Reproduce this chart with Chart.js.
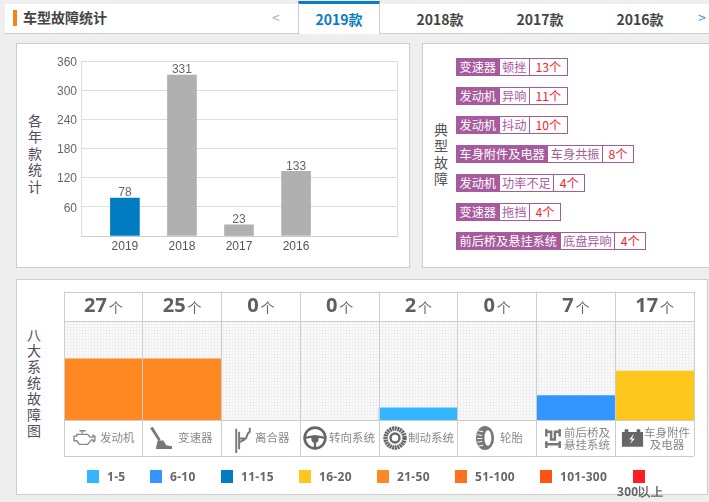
<!DOCTYPE html>
<html>
<head>
<meta charset="utf-8">
<script src="https://cdn.jsdelivr.net/npm/chart.js@4/dist/chart.umd.min.js"></script>
<style>
html, body { margin: 0; padding: 0; width: 709px; height: 502px; overflow: hidden; background: #eee; font-family: "Noto Sans CJK SC", "Noto Sans", sans-serif; }
.abs { position: absolute; }
.panel { position: absolute; background: #fff; border: 1px solid #ccc; box-sizing: border-box; }
#header { left: 5px; top: 4px; width: 704px; height: 30px; background: #fff; border-bottom: 1px solid #ccc; box-sizing: border-box; }
#titleBar { left: 13px; top: 10px; width: 4px; height: 16px; background: #f5821f; }
#title { left: 23px; top: 8px; font-size: 14px; line-height: 19px; font-weight: 700; color: #444; }
#activeTab { left: 298px; top: 1px; width: 82px; height: 33px; background: #fff; border-top: 3px solid #0a7cc4; border-left: 1px solid #ccc; border-right: 1px solid #ccc; box-sizing: border-box; }
.tab { position: absolute; top: 9px; width: 80px; text-align: center; font-size: 14px; line-height: 20px; font-weight: 700; color: #444; }
.vert { position: absolute; width: 20px; text-align: center; font-size: 14px; color: #554b5c; }
canvas { position: absolute; }
.row { position: absolute; left: 456px; display: flex; height: 18px; font-size: 12.2px; line-height: 16px; white-space: nowrap; }
.row span { display: block; border: 1px solid #a75a9d; border-left: none; padding: 0 2.5px; box-sizing: border-box; height: 18px; color: #a75a9d; }
.row span.sys { background: #a75a9d; color: #fff; border-left: 1px solid #a75a9d; }
.row span.num { color: #f0232f; padding: 0 5.5px; }
.cap { position: absolute; font-size: 11.5px; line-height: 11.5px; color: #888; text-align: center; white-space: nowrap; }
.icon { position: absolute; }
.swatch { position: absolute; top: 470px; width: 12px; height: 13px; }
.legText { position: absolute; top: 468px; font-family: "Open Sans", sans-serif; font-size: 12px; line-height: 18px; font-weight: 700; color: #666; letter-spacing: .3px; white-space: nowrap; }
</style>
</head>
<body>
<div id="header" class="abs"></div>
<div id="titleBar" class="abs"></div>
<div id="title" class="abs">车型故障统计</div>
<div class="abs" style="left:272px;top:8px;font-size:14px;line-height:18px;color:#aaa">&lt;</div>
<div id="activeTab" class="abs"></div>
<div class="tab" style="left:299px;color:#0a7cc4">2019款</div>
<div class="tab" style="left:400px">2018款</div>
<div class="tab" style="left:500px">2017款</div>
<div class="tab" style="left:600px">2016款</div>
<div class="abs" style="left:698px;top:8px;font-size:14px;line-height:18px;color:#2f8fe0">&gt;</div>

<div class="panel" style="left:16px;top:43px;width:394px;height:225px"></div>
<div class="panel" style="left:422px;top:43px;width:290px;height:225px"></div>
<div class="panel" style="left:16px;top:279px;width:692px;height:216px"></div>

<div class="vert" style="left:25px;top:112px;line-height:16.4px">各<br>年<br>款<br>统<br>计</div>
<div class="vert" style="left:431px;top:121px;line-height:16.3px;color:#555">典<br>型<br>故<br>障</div>
<div class="vert" style="left:24px;top:326px;line-height:16px">八<br>大<br>系<br>统<br>故<br>障<br>图</div>

<canvas id="yearChart" style="left:16px;top:43px;width:393px;height:224px" width="393" height="224"></canvas>
<canvas id="sysChart" style="left:16px;top:279px;width:692px;height:215px" width="692" height="215"></canvas>
<div id="faults"></div>
<div id="icons"></div>
<div id="legend"></div>

<script>
// yearly totals
const years = ['2019', '2018', '2017', '2016'];
const yearCounts = [78, 331, 23, 133];
const yearTicks = [60, 120, 180, 240, 300, 360];

// typical faults
const faultSystems = ['变速器', '发动机', '发动机', '车身附件及电器', '发动机', '变速器', '前后桥及悬挂系统'];
const faultNames = ['顿挫', '异响', '抖动', '车身共振', '功率不足', '拖挡', '底盘异响'];
const faultCounts = [13, 11, 10, 8, 4, 4, 4];

// eight systems
const systems = ['发动机', '变速器', '离合器', '转向系统', '制动系统', '轮胎', '前后桥及悬挂系统', '车身附件及电器'];
const systemCounts = [27, 25, 0, 0, 2, 0, 7, 17];
const systemLevels = [5, 5, 0, 0, 1, 0, 2, 4];

// legend
const legendLabels = ['1-5', '6-10', '11-15', '16-20', '21-50', '51-100', '101-300', '300以上'];
const legendColors = ['#33b5ff', '#3395ff', '#007cc3', '#ffc71e', '#ff8822', '#ff6f20', '#ff5411', '#ff1d23'];

const LATIN = 'Arial, "Liberation Sans", sans-serif';

// outer lines of the year plot
const yearFrame = {
    id: 'yearFrame',
    afterDraw(chart) {
        const { ctx, chartArea: a } = chart;
        ctx.save();
        ctx.strokeStyle = '#ddd';
        ctx.lineWidth = 1;
        ctx.beginPath();
        ctx.moveTo(a.right + .5, a.top);
        ctx.lineTo(a.right + .5, a.bottom);
        ctx.stroke();
        ctx.restore();
    }
};

const yearValues = {
    id: 'yearValues',
    afterDatasetsDraw(chart) {
        const { ctx } = chart;
        ctx.save();
        ctx.font = '12px ' + LATIN;
        ctx.fillStyle = '#666';
        ctx.textAlign = 'center';
        ctx.textBaseline = 'bottom';
        chart.getDatasetMeta(0).data.forEach((bar, i) => {
            ctx.fillText(yearCounts[i], bar.x, bar.y + 1);
        });
        ctx.restore();
    }
};

new Chart(document.getElementById('yearChart'), {
    type: 'bar',
    data: {
        datasets: [{
            data: yearCounts.map((v, i) => ({ x: i, y: v })),
            backgroundColor: years.map((y, i) => i === 0 ? '#007cc3' : '#b0b0b0'),
            barThickness: 29
        }]
    },
    options: {
        responsive: false,
        animation: false,
        layout: { padding: { top: 18, right: 12, left: 0, bottom: 0 } },
        plugins: { legend: { display: false }, tooltip: { enabled: false } },
        scales: {
            x: {
                type: 'linear',
                offset: false,
                min: -0.77,
                max: 4.77,
                afterBuildTicks: s => { s.ticks = years.map((y, i) => ({ value: i })); },
                afterFit: s => { s.height = 31; },
                grid: { display: false, drawTicks: false },
                border: { color: '#ccc' },
                ticks: {
                    autoSkip: false,
                    maxRotation: 0,
                    padding: 3,
                    color: '#555',
                    font: { family: LATIN, size: 12 },
                    callback: v => years[v]
                }
            },
            y: {
                min: 0,
                max: 360,
                afterBuildTicks: s => { s.ticks = [0].concat(yearTicks).map(v => ({ value: v })); },
                afterFit: s => { s.width = 65; },
                grid: { color: '#ddd', drawTicks: false },
                border: { color: '#ddd' },
                ticks: {
                    padding: 4,
                    labelOffset: 1.5,
                    color: '#666',
                    font: { family: LATIN, size: 12 },
                    callback: v => v === 0 ? '' : v
                }
            }
        }
    },
    plugins: [yearFrame, yearValues]
});

// dotted backdrop of the cells
function dotPattern(ctx) {
    const tile = document.createElement('canvas');
    tile.width = tile.height = 3;
    const t = tile.getContext('2d');
    t.fillStyle = '#fafafa';
    t.fillRect(0, 0, 3, 3);
    t.fillStyle = '#f0f0f0';
    t.fillRect(0, 0, 1, 3);
    t.fillRect(0, 0, 3, 1);
    return ctx.createPattern(tile, 'repeat');
}

const cellBack = {
    id: 'cellBack',
    beforeDatasetsDraw(chart) {
        const { ctx, chartArea: a } = chart;
        ctx.save();
        ctx.fillStyle = dotPattern(ctx);
        ctx.fillRect(a.left, a.top, a.right - a.left, a.bottom - a.top);
        ctx.restore();
    }
};

// table lines and the counts above each column
const cellFrame = {
    id: 'cellFrame',
    afterDraw(chart) {
        const { ctx, chartArea: a, scales: { x } } = chart;
        const top = a.top - 29.5, bottom = a.bottom + 36;
        const w = x.getPixelForValue(1) - x.getPixelForValue(0);
        ctx.save();
        ctx.strokeStyle = '#ccc';
        ctx.lineWidth = 1;
        ctx.beginPath();
        [top, a.top, a.bottom, bottom].forEach(y => {
            const py = Math.round(y) + .5;
            ctx.moveTo(a.left, py);
            ctx.lineTo(a.right, py);
        });
        systems.forEach((s, i) => {
            const px = Math.floor(x.getPixelForValue(i) - w / 2) + .5;
            ctx.moveTo(px, top);
            ctx.lineTo(px, bottom);
        });
        const rx = Math.round(a.right) + .5;
        ctx.moveTo(rx, top);
        ctx.lineTo(rx, bottom);
        ctx.stroke();

        ctx.textBaseline = 'middle';
        ctx.textAlign = 'left';
        systemCounts.forEach((n, i) => {
            const boldFont = '700 20px "Open Sans", sans-serif';
            const unitFont = '14px "Noto Sans CJK SC", sans-serif';
            ctx.font = boldFont;
            const nw = ctx.measureText(n).width;
            ctx.font = unitFont;
            const uw = ctx.measureText('个').width;
            const sx = x.getPixelForValue(i) - (nw + uw + 2) / 2;
            ctx.font = boldFont;
            ctx.fillStyle = '#5f5f5f';
            ctx.fillText(n, sx, a.top - 15);
            ctx.font = unitFont;
            ctx.fillStyle = '#666';
            ctx.fillText('个', sx + nw + 2, a.top - 13);
        });
        ctx.restore();
    }
};

new Chart(document.getElementById('sysChart'), {
    type: 'bar',
    data: {
        labels: systems,
        datasets: [{
            data: systemLevels,
            backgroundColor: systemLevels.map(l => l > 0 ? legendColors[l - 1] : 'transparent'),
            barPercentage: 1,
            categoryPercentage: 1
        }]
    },
    options: {
        responsive: false,
        animation: false,
        layout: { padding: { left: 48, right: 14, top: 42, bottom: 74 } },
        plugins: { legend: { display: false }, tooltip: { enabled: false } },
        scales: {
            x: { display: false },
            y: { display: false, min: 0, max: 8.1 }
        }
    },
    plugins: [cellBack, cellFrame]
});

// fault tags
const faultsBox = document.getElementById('faults');
faultSystems.forEach((sys, i) => {
    const row = document.createElement('div');
    row.className = 'row';
    row.style.top = (58 + i * 29) + 'px';
    row.innerHTML = '<span class="sys">' + sys + '</span><span>' + faultNames[i] + '</span><span class="num">' + faultCounts[i] + '个</span>';
    faultsBox.appendChild(row);
});

// system icons, drawn as small outlines
const iconSvg = [
    '<svg width="26" height="20" viewBox="0 0 26 22" fill="none" stroke="#888" stroke-width="1.5"><path d="M8 3h7M11 3v3M5 7h12l3 3h3v-2l2 1v5l-2 1v-2h-2l-4 5H8l-3-4H2V9h3z"/></svg>',
    '<svg width="23" height="22" viewBox="0 0 24 23" fill="#777"><path d="M0 1l3-1 8 13-2 2z"/><path d="M8 14h6l3 5 6 1v3H6z"/></svg>',
    '<svg width="20" height="29" viewBox="0 0 20 30" fill="none" stroke="#777" stroke-width="2"><path d="M3 5v25M6 8v18M6 15h7l2-5 2-2v-4M6 19l6-3"/></svg>',
    '<svg width="24" height="24" viewBox="0 0 24 24" fill="none" stroke="#666" stroke-width="2.6"><circle cx="12" cy="12" r="10.4"/><path stroke-width="2.2" d="M2 12c6-2 14-2 20 0M12 15v7"/><circle cx="12" cy="13" r="2.4" fill="#666"/></svg>',
    '<svg width="24" height="24" viewBox="0 0 24 24" fill="none" stroke="#666"><circle cx="12" cy="12" r="9.5" stroke-width="4.4" stroke-dasharray="2 .6"/><circle cx="12" cy="12" r="4.5" stroke-width="2.4"/></svg>',
    '<svg width="20" height="24" viewBox="0 0 20 25" fill="#777"><ellipse cx="10" cy="12.5" rx="9.5" ry="12.5"/><ellipse cx="13" cy="12.5" rx="3.6" ry="8" fill="#fff"/><path d="M3 5l5 1M2 9l5 1M2 13h5M2 17l5-1M3 21l5-1" stroke="#fff" stroke-width="1"/></svg>',
    '<svg width="22" height="21" viewBox="0 0 22 22" fill="none" stroke="#777" stroke-width="2.6"><path d="M4 1v8M18 1v8M5 4h4v8h4V4h4M4 14v7M18 14v7M5 17h12"/></svg>',
    '<svg width="23" height="18" viewBox="0 0 25 19"><path d="M1 3h23v16H1z" fill="#666"/><path d="M4 0h4v3H4zM17 0h4v3h-4z" fill="#666"/><path d="M14 5l-5 6h3l-2 5 5-6h-3z" fill="#fff"/></svg>'
];
const iconSlots = [[71, 428], [150, 427], [233, 424], [303, 426], [383, 426], [475, 426], [542, 428], [621, 428]];
const capSlots = [[100, 432], [178, 432], [255, 432], [329, 432], [408, 432], [500, 432], [564, 427], [644, 427]];
const capLines = [['发动机'], ['变速器'], ['离合器'], ['转向系统'], ['制动系统'], ['轮胎'], ['前后桥及', '悬挂系统'], ['车身附件', '及电器']];
const iconsBox = document.getElementById('icons');
systems.forEach((s, i) => {
    const ic = document.createElement('div');
    ic.className = 'icon';
    ic.style.left = iconSlots[i][0] + 'px';
    ic.style.top = iconSlots[i][1] + 'px';
    ic.innerHTML = iconSvg[i];
    iconsBox.appendChild(ic);
    const cap = document.createElement('div');
    cap.className = 'cap';
    cap.style.left = capSlots[i][0] + 'px';
    cap.style.top = capSlots[i][1] + 'px';
    cap.innerHTML = capLines[i].join('<br>');
    iconsBox.appendChild(cap);
});

// legend
const swatchX = [87, 150, 221, 299, 377, 455, 540, 633];
const legendX = [107, 170, 241, 319, 397, 475, 560, 617];
const legendBox = document.getElementById('legend');
legendLabels.forEach((label, i) => {
    const sw = document.createElement('div');
    sw.className = 'swatch';
    sw.style.left = swatchX[i] + 'px';
    sw.style.background = legendColors[i];
    legendBox.appendChild(sw);
    const tx = document.createElement('div');
    tx.className = 'legText';
    tx.style.left = legendX[i] + 'px';
    if (i === 7) tx.style.top = '483px';
    tx.textContent = label;
    legendBox.appendChild(tx);
});
</script>
</body>
</html>
